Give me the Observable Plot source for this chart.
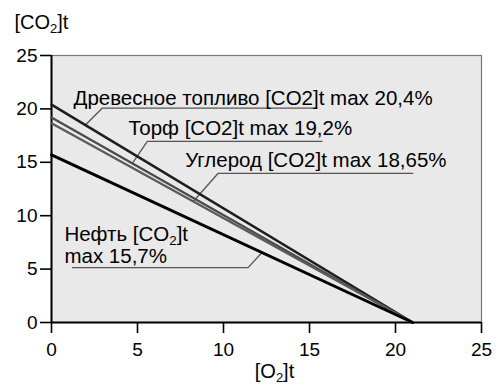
<!DOCTYPE html>
<html>
<head>
<meta charset="utf-8">
<script src="https://cdn.jsdelivr.net/npm/d3@7"></script>
<script src="https://cdn.jsdelivr.net/npm/@observablehq/plot@0.6"></script>
<style>
  html, body { margin: 0; padding: 0; background: #fff; }
  svg { display: block; }
</style>
</head>
<body>
<div id="chart"></div>
<script>
// ---- data ----
const fuels = ["Древесное топливо", "Торф", "Углерод", "Нефть"];
const co2Max = [20.4, 19.2, 18.65, 15.7];          // [CO2]t at [O2]t = 0
const o2AtZeroCo2 = 21;                             // [O2]t where [CO2]t reaches 0
const labels = [
  "Древесное топливо [CO2]t max 20,4%",
  "Торф [CO2]t max 19,2%",
  "Углерод [CO2]t max 18,65%",
  "Нефть [CO₂]t\nmax 15,7%"
];
const xTitle = "[O₂]t";
const yTitle = "[CO₂]t";
// annotation anchors (data units)
const labelO2 = [1.28, 4.47, 7.77, 0.75];
const labelCo2 = [20.37, 17.55, 14.54, 5.6];
const leaderTouchO2 = [1.97, 4.7, 8.24, 12.24];
const leaderElbowO2 = [2.96, 5.57, 9.69, 11.43];
const leaderElbowCo2 = [20.08, 16.95, 13.97, 5.14];
const leaderEndO2 = [15.43, 15.72, 21.0, 1.22];
const xTicks = [0, 5, 10, 15, 20, 25];
const yTicks = [0, 5, 10, 15, 20, 25];

// ---- styles ----
const lineColors = ["#1e1e1e", "#4a4a4a", "#5a5a5a", "#000000"];
const lineWidths = [2.6, 2.2, 2.2, 3];

// ---- derived tables ----
const lineData = fuels.flatMap((f, i) => [
  {fuel: f, o2: 0, co2: co2Max[i]},
  {fuel: f, o2: o2AtZeroCo2, co2: 0}
]);
const co2On = (i, o2) => co2Max[i] * (1 - o2 / o2AtZeroCo2);
const leaderData = fuels.flatMap((f, i) => [
  {fuel: f, k: 0, o2: leaderTouchO2[i], co2: co2On(i, leaderTouchO2[i])},
  {fuel: f, k: 1, o2: leaderElbowO2[i], co2: leaderElbowCo2[i]},
  {fuel: f, k: 2, o2: leaderEndO2[i], co2: leaderElbowCo2[i]}
]);
const labelData = fuels.map((f, i) => ({fuel: f, text: labels[i], o2: labelO2[i], co2: labelCo2[i]}));

const font = "'Liberation Sans', Arial, sans-serif";

const chart = Plot.plot({
  width: 497,
  height: 390,
  marginLeft: 51,
  marginRight: 16,
  marginTop: 55,
  marginBottom: 68,
  style: {fontFamily: font, fontSize: "19px", color: "#000", background: "#fff"},
  x: {domain: [0, 25]},
  y: {domain: [0, 25]},
  marks: [
    Plot.frame({fill: "#e9e9e9", stroke: "#777", strokeWidth: 1.2}),
    Plot.axisX({ticks: xTicks, tickSize: 11, tickPadding: 9, tickFormat: d => String(d),
      strokeWidth: 1.6, fontSize: 19, label: null}),
    Plot.axisY({ticks: yTicks, tickSize: 11, tickPadding: 3, tickFormat: d => String(d),
      strokeWidth: 1.6, fontSize: 19, label: null}),
    Plot.text([yTitle], {frameAnchor: "top-left", dx: -37, dy: -27, textAnchor: "start",
      lineAnchor: "bottom", fontSize: 20, fill: "#000"}),
    Plot.text([xTitle], {frameAnchor: "bottom", dx: 8, dy: 55, textAnchor: "middle",
      lineAnchor: "bottom", fontSize: 20, fill: "#000"}),
    Plot.ruleY([0], {stroke: "#000", strokeWidth: 2}),
    Plot.ruleX([0], {stroke: "#000", strokeWidth: 2}),
    Plot.line(leaderData, {x: "o2", y: "co2", z: "fuel", stroke: "#555", strokeWidth: 1.3}),
    ...fuels.map((f, i) => Plot.line(lineData.filter(d => d.fuel === f), {
      x: "o2", y: "co2", stroke: lineColors[i], strokeWidth: lineWidths[i]
    })),
    Plot.text(labelData, {x: "o2", y: "co2", text: "text", textAnchor: "start", lineAnchor: "bottom",
      fontSize: 20.5, lineHeight: 1.06, fill: "#000"})
  ]
});

// render "₂" as a real lowered subscript
function subscriptify(root) {
  const walker = document.createTreeWalker(root, NodeFilter.SHOW_TEXT);
  const nodes = [];
  while (walker.nextNode()) if (walker.currentNode.nodeValue.includes("₂")) nodes.push(walker.currentNode);
  const ns = "http://www.w3.org/2000/svg";
  for (const node of nodes) {
    const parts = node.nodeValue.split("₂");
    const frag = document.createDocumentFragment();
    parts.forEach((p, j) => {
      if (j > 0) {
        const s = document.createElementNS(ns, "tspan");
        s.setAttribute("baseline-shift", "-28%");
        s.setAttribute("font-size", "65%");
        s.textContent = "2";
        frag.appendChild(s);
      }
      if (p) frag.appendChild(document.createTextNode(p));
    });
    node.parentNode.replaceChild(frag, node);
  }
}
subscriptify(chart);
document.getElementById("chart").appendChild(chart);
</script>
</body>
</html>
